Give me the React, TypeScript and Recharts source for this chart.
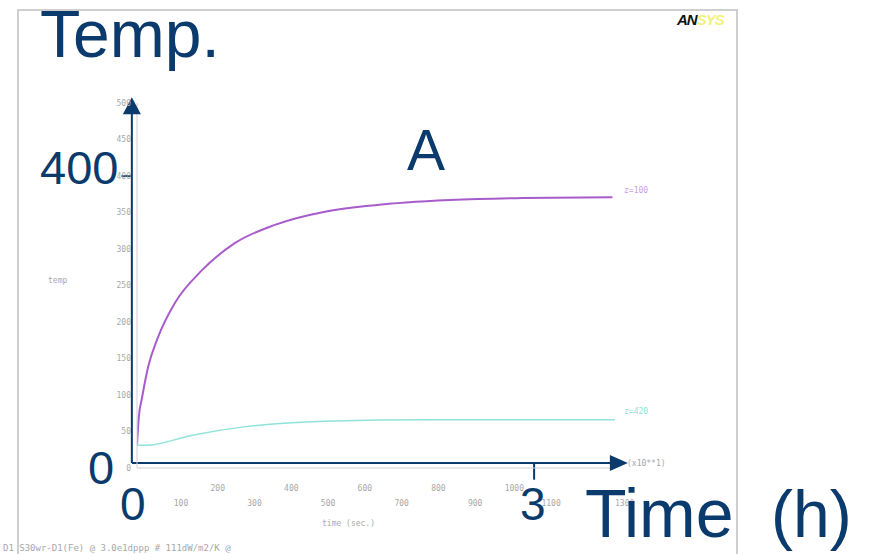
import React from "react";
import { LineChart, Line, XAxis, YAxis, ReferenceLine, ReferenceDot } from "recharts";

// ANSYS time-history: time in sec x10, temperature
const timeTop = [0, 5, 14, 30, 57, 103, 177, 266, 375, 511, 647, 850, 1050, 1293];
const tempTop = [32, 70, 97, 138, 179, 226, 271, 308, 333, 351, 360, 367, 370, 371];
const timeBottom = [0, 25, 150, 285, 511, 800, 1300];
const tempBottom = [31, 31, 45, 56, 64, 66, 66];

const yTicks = [0, 50, 100, 150, 200, 250, 300, 350, 400, 450, 500];
const xTicks = [100, 200, 300, 400, 500, 600, 700, 800, 900, 1000, 1100, 1200, 1300];

// blue overlay axes (data coords)
const axisX0 = -14;
const axisY0 = 6.8;
const yArrowTip = 508;
const xArrowTip = 1335;
const markTemp = 400;
const markTime = 1080;

const topData = timeTop.map((t, i) => ({ t, v: tempTop[i] }));
const bottomData = timeBottom.map((t, i) => ({ t, v: tempBottom[i] }));

const NAVY = "#0b3a6d";
const GRAY = "#a8a8a8";

const XTick = ({ x, y, payload }: any) => {
  const odd = (payload.value / 100) % 2 === 1;
  return (
    <text x={x} y={y + (odd ? 30 : 15)} fontSize={8} fill={GRAY} fontFamily="DejaVu Sans Mono" textAnchor="start">
      {payload.value}
    </text>
  );
};

const UpArrow = ({ cx, cy }: any) => (
  <polygon points={`${cx},${cy} ${cx - 9},${cy + 17} ${cx + 9},${cy + 17}`} fill={NAVY} />
);
const RightArrow = ({ cx, cy }: any) => (
  <polygon points={`${cx},${cy} ${cx - 18},${cy - 8} ${cx - 18},${cy + 8}`} fill={NAVY} />
);

export default function App() {
  const big = { fontFamily: "'Liberation Sans', Arial, sans-serif", fill: NAVY };
  const small = { fontFamily: "'DejaVu Sans Mono', monospace", fill: GRAY, fontSize: 8 };
  return (
    <div style={{ position: "fixed", left: 0, top: 0, width: 876, height: 554, background: "#fff" }}>
      <div style={{ position: "absolute", left: 17, top: 9, width: 717, height: 560, border: "2px solid #cfcfcf", borderBottom: "none" }} />
      <LineChart
        width={876}
        height={554}
        margin={{ top: 103, right: 261, bottom: 46, left: 107 }}
        style={{ position: "absolute", left: 0, top: 0 }}
      >
        <XAxis
          type="number"
          dataKey="t"
          domain={[0, 1300]}
          ticks={xTicks}
          height={40}
          tick={<XTick />}
          tickLine={false}
          axisLine={{ stroke: "#d0d0d0" }}
          allowDataOverflow
        />
        <YAxis
          type="number"
          domain={[0, 500]}
          ticks={yTicks}
          width={30}
          tickSize={4}
          tickMargin={2}
          tickLine={false}
          tick={{ fontSize: 8, fill: GRAY, fontFamily: "DejaVu Sans Mono" }}
          axisLine={{ stroke: "#d0d0d0" }}
          allowDataOverflow
        />
        <Line data={bottomData} dataKey="v" type="monotone" stroke="#8fe3da" strokeWidth={1.5} dot={false} isAnimationActive={false} />
        <Line data={topData} dataKey="v" type="monotone" stroke="#a85ccc" strokeWidth={2} dot={false} isAnimationActive={false} />
        <ReferenceLine segment={[{ x: axisX0, y: axisY0 }, { x: axisX0, y: yArrowTip - 10 }]} stroke={NAVY} strokeWidth={2} ifOverflow="visible" />
        <ReferenceLine segment={[{ x: axisX0, y: axisY0 }, { x: xArrowTip - 20, y: axisY0 }]} stroke={NAVY} strokeWidth={2} ifOverflow="visible" />
        <ReferenceLine segment={[{ x: -42, y: markTemp }, { x: axisX0, y: markTemp }]} stroke={NAVY} strokeWidth={2} ifOverflow="visible" />
        <ReferenceLine segment={[{ x: markTime, y: axisY0 }, { x: markTime, y: -16 }]} stroke={NAVY} strokeWidth={2} ifOverflow="visible" />
        <ReferenceDot x={axisX0} y={yArrowTip} r={0} shape={<UpArrow />} ifOverflow="visible" />
        <ReferenceDot x={xArrowTip} y={axisY0} r={0} shape={<RightArrow />} ifOverflow="visible" />
      </LineChart>
      <svg width={876} height={554} style={{ position: "absolute", left: 0, top: 0, pointerEvents: "none" }}>
        <text x={677} y={25} fontFamily="'Liberation Sans', Arial" fontWeight="bold" fontStyle="italic" fontSize={15} letterSpacing={-1}>
          <tspan fill="#111">AN</tspan>
          <tspan fill="#f2f27a">SYS</tspan>
        </text>
        <text x={48} y={283} {...small}>temp</text>
        <text x={627} y={466} {...small}>(x10**1)</text>
        <text x={322} y={526} {...small}>time  (sec.)</text>
        <text x={3} y={551} {...small} fontSize={9}>D1 S30wr-D1(Fe) @ 3.0e1dppp # 111dW/m2/K @</text>
        <text x={624} y={193} {...small} fill="#c9a0e0">z=100</text>
        <text x={624} y={414} {...small} fill="#8fe3da">z=420</text>
        <text x={40} y={57} fontSize={66} {...big}>Temp.</text>
        <text x={40} y={184} fontSize={47} {...big}>400</text>
        <text x={407} y={170} fontSize={57} {...big}>A</text>
        <text x={88} y={484} fontSize={47} {...big}>0</text>
        <text x={120} y={520} fontSize={46} {...big}>0</text>
        <text x={520} y={520} fontSize={46} {...big}>3</text>
        <text x={585} y={537} fontSize={68} {...big}>Time</text>
        <text x={771} y={537} fontSize={66} {...big}>(h)</text>
      </svg>
    </div>
  );
}
